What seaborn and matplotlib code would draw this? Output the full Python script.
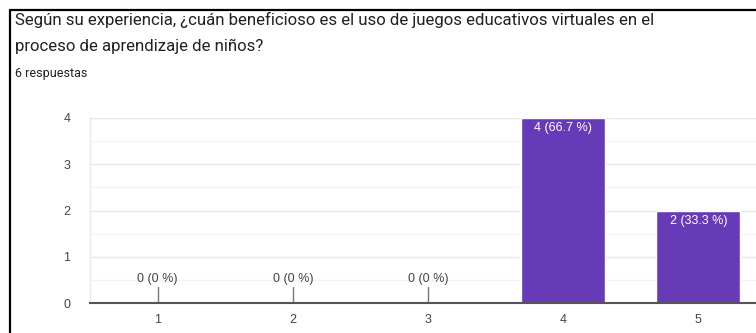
import matplotlib
matplotlib.use("Agg")
import matplotlib.pyplot as plt
import seaborn as sns
import pandas as pd
from matplotlib.lines import Line2D

categories = ["1", "2", "3", "4", "5"]
counts = [0, 0, 0, 4, 2]
labels = ["0 (0 %)", "0 (0 %)", "0 (0 %)", "4 (66.7 %)", "2 (33.3 %)"]
yticks = [0, 1, 2, 3, 4]
title_lines = ["Según su experiencia, ¿cuán beneficioso es el uso de juegos educativos virtuales en el",
               "proceso de aprendizaje de niños?"]
subtitle = "6 respuestas"

sns.set_theme(style="white")
plt.rcParams['font.family'] = ['Liberation Sans', 'DejaVu Sans']

W, H = 756, 333
fig = plt.figure(figsize=(W/100, H/100), dpi=100)
left, right, top, bottom = 90, 766, 118, 303
ax = fig.add_axes([left/W, 1-bottom/H, (right-left)/W, (bottom-top)/H])

df = pd.DataFrame({"cat": categories, "n": counts})
sns.barplot(data=df, x="cat", y="n", color="#673ab7", saturation=1, width=0.62, ax=ax, zorder=3)

ax.set_ylim(0, 4)
ax.set_xlim(-0.5, len(categories)-0.5)
ax.set_yticks(yticks)
ax.set_yticks([0.5, 1.5, 2.5, 3.5], minor=True)
ax.grid(axis='y', which='major', color='#e8e8e8', linewidth=1, zorder=0)
ax.grid(axis='y', which='minor', color='#f4f4f4', linewidth=1, zorder=0)
ax.set_xlabel("")
ax.set_ylabel("")
for s in ["top", "right"]:
    ax.spines[s].set_visible(False)
ax.spines["left"].set_color("#e8e8e8")
ax.spines["left"].set_linewidth(1)
ax.spines["bottom"].set_color("#555555")
ax.spines["bottom"].set_linewidth(1.5)
ax.spines["bottom"].set_zorder(4)
ax.tick_params(axis='both', length=0, labelsize=9, labelcolor="#444444")
ax.tick_params(axis='y', pad=14)
ax.tick_params(axis='x', pad=8)

for i, (v, lab) in enumerate(zip(counts, labels)):
    if v == 0:
        ax.plot([i, i], [0, 0.35], color="#777777", linewidth=1, zorder=4)
        ax.annotate(lab, (i, 0), xytext=(0, 13), textcoords="offset points",
                    ha="center", va="bottom", fontsize=9, color="#444444")
    else:
        ax.annotate(lab, (i, v), xytext=(0, -3), textcoords="offset points",
                    ha="center", va="top", fontsize=9, color="white")

tfont = ['Roboto', 'DejaVu Sans']
fig.text(15/W, 1-20/H, title_lines[0], fontsize=12.1, color="#202124", va="center", ha="left", family=tfont)
fig.text(15/W, 1-46/H, title_lines[1], fontsize=12.1, color="#202124", va="center", ha="left", family=tfont)
fig.text(15/W, 1-74/H, subtitle, fontsize=9, color="#202124", va="center", ha="left", family=tfont)

fig.add_artist(Line2D([10/W, 10/W], [0, 1-10/H], color="black", linewidth=1.6, transform=fig.transFigure))
fig.add_artist(Line2D([10/W, 1], [1-10/H, 1-10/H], color="black", linewidth=1.6, transform=fig.transFigure))

fig.savefig("out.png", dpi=100)
